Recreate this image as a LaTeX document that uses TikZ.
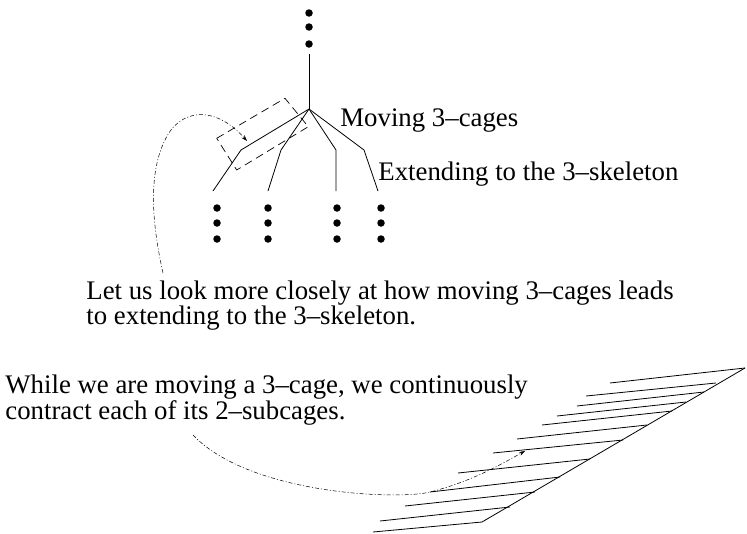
\documentclass[tikz,border=0pt]{standalone}
\usepackage{fontspec}
\setmainfont{Liberation Serif}
\usetikzlibrary{arrows.meta}
\begin{document}
\begin{tikzpicture}[x=1pt,y=-1pt, line width=0.8pt,
  lbl/.style={anchor=base west, inner sep=0pt, font=\fontsize{26.8}{25}\selectfont},
  dotc/.style={circle, fill, inner sep=0pt, minimum size=7.5pt},
  dashbox/.style={dash pattern=on 8pt off 5pt, line width=0.7pt},
  dashdot/.style={line width=0.5pt, dash pattern=on 4pt off 2pt on 1pt off 2pt, -{Stealth[length=6pt,width=4pt]}},
  hatch/.style={line width=0.8pt}]
\useasboundingbox (0,0) rectangle (747,533);
% tree
\coordinate (T) at (309,54);
\coordinate (R) at (309,109);
\coordinate (k1) at (241,150); \coordinate (l1) at (213,191);
\coordinate (k2) at (281,150); \coordinate (l2) at (268,191);
\coordinate (k3) at (336,150); \coordinate (l3) at (336,191);
\coordinate (k4) at (364,150); \coordinate (l4) at (378,191);
\draw (T) -- (R);
\draw (R) -- (k1) -- (l1);
\draw (R) -- (k2) -- (l2);
\draw (R) -- (k3) -- (l3);
\draw (R) -- (k4) -- (l4);
% dots
\node[dotc] (d0a) at (309,13) {};
\node[dotc] (d0b) at (309,27) {};
\node[dotc] (d0c) at (309,44) {};
\foreach \x/\n in {217/1,268/2,337/3,381/4}{
  \node[dotc] (d\n a) at (\x,208) {};
  \node[dotc] (d\n b) at (\x,223) {};
  \node[dotc] (d\n c) at (\x,239) {};
}
% dashed box
\coordinate (bA) at (216.7,138.3);
\coordinate (bB) at (285,98.3);
\coordinate (bC) at (308.3,126.7);
\coordinate (bD) at (236.7,170);
\draw[dashbox] (bA) -- (bB) -- (bC) -- (bD) -- cycle;
% labels
\node[lbl] (mv) at (340,126) {Moving 3–cages};
\node[lbl] (ex) at (378,180) {Extending to the 3–skeleton};
\node[lbl] (t1a) at (86,299) {Let us look more closely at how moving 3–cages leads};
\node[lbl] (t1b) at (86,324) {to extending to the 3–skeleton.};
\node[lbl] (t2a) at (5,393) {While we are moving a 3–cage, we continuously};
\node[lbl] (t2b) at (5,419) {contract each of its 2–subcages.};
% dash-dot arrow 1
\coordinate (a1s) at (163,273);
\coordinate (a1m) at (165,140);
\coordinate (a1e) at (247,141);
\draw[dashdot] (a1s) .. controls (150,215) and (150,170) .. (a1m)
  .. controls (180,108) and (215,105) .. (a1e);
% hatched figure
\coordinate (s0) at (482,522);
\coordinate (s1) at (745,368);
\draw[hatch] (s0) -- (s1);
\foreach \la/\ra [count=\i] in {{373,532}/{482,522},{380,521}/{510,507},{405,506}/{535,492},{430,492}/{560,477},{458,473}/{590,459},{493,453}/{623,440},{517,439}/{647,425},{542,425}/{672,411},{557,416}/{686,402},{577,406}/{704,392},{586,396}/{716,383},{610,383}/{745,368}}{
  \coordinate (hl\i) at (\la);
  \coordinate (hr\i) at (\ra);
  \draw[hatch] (hl\i) -- (hr\i);
}
% dash-dot arrow 2
\coordinate (a2s) at (193,435);
\coordinate (a2m) at (430,492);
\coordinate (a2e) at (525,451);
\draw[dashdot] (a2s) .. controls (250,495) and (400,500) .. (a2m)
  .. controls (470,482) and (500,465) .. (a2e);
\end{tikzpicture}
\end{document}
